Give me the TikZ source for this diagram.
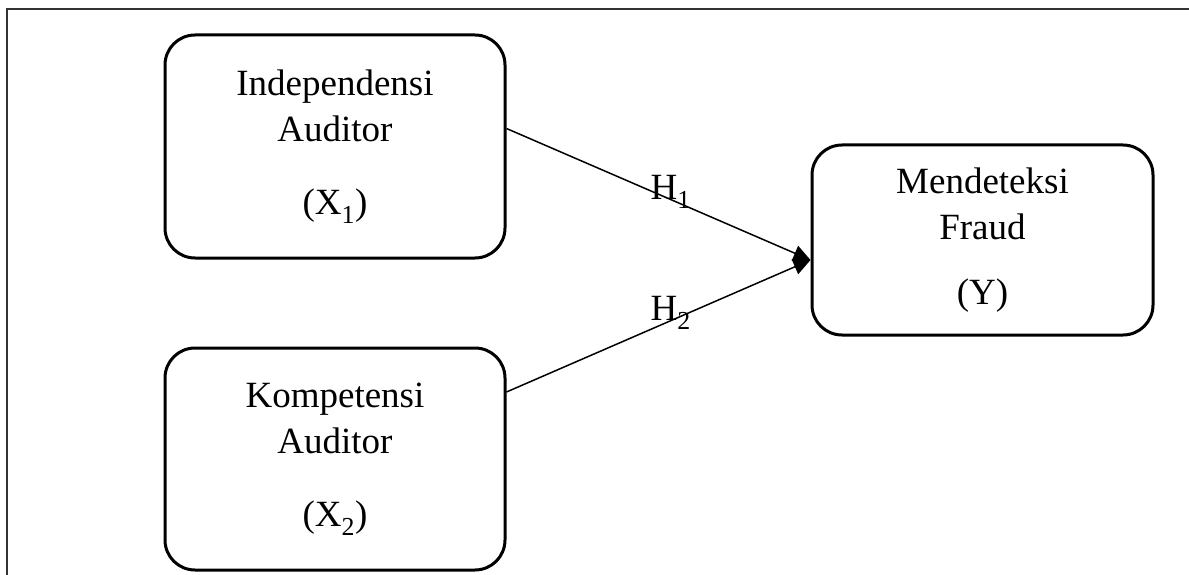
\documentclass[tikz,border=0pt]{standalone}
\usepackage{fontspec}
\setmainfont{Liberation Serif}
\usetikzlibrary{arrows.meta}

\begin{document}
\begin{tikzpicture}
[x=1pt,y=-1pt,
varbox/.style={rectangle,draw=black,line width=3pt,rounded corners=30pt,
  minimum width=340pt,align=center,inner sep=0pt,
  font=\fontsize{37}{46}\selectfont},
hypothesis/.style={-{Triangle[length=17pt,width=16pt]},line width=1.5pt},
hlabel/.style={anchor=base,inner sep=0pt,font=\fontsize{37}{46}\selectfont}]
\clip (0,0) rectangle (1189,575);
% frame
\draw[line width=2pt,black!80] (7,600) -- (7,9) -- (1200,9);
\node[varbox,minimum height=223pt] (independensi) at (335,146.5)
  {Independensi\\Auditor\\[27pt](X\textsubscript{1})};
\node[varbox,minimum height=222pt] (kompetensi) at (335,459)
  {Kompetensi\\Auditor\\[27pt](X\textsubscript{2})};
\node[varbox,minimum width=341pt,minimum height=190pt] (fraud) at (982.5,240)
  {Mendeteksi\\Fraud\\[19pt](Y)};
\coordinate (meet) at ([yshift=-20pt]fraud.west);
\draw[hypothesis] ([yshift=18pt]independensi.east) -- (meet)
  node[hlabel,pos=0.54] {H\textsubscript{1}};
\draw[hypothesis] ([yshift=67pt]kompetensi.east) -- (meet)
  node[hlabel,pos=0.54] {H\textsubscript{2}};
\end{tikzpicture}
\end{document}
